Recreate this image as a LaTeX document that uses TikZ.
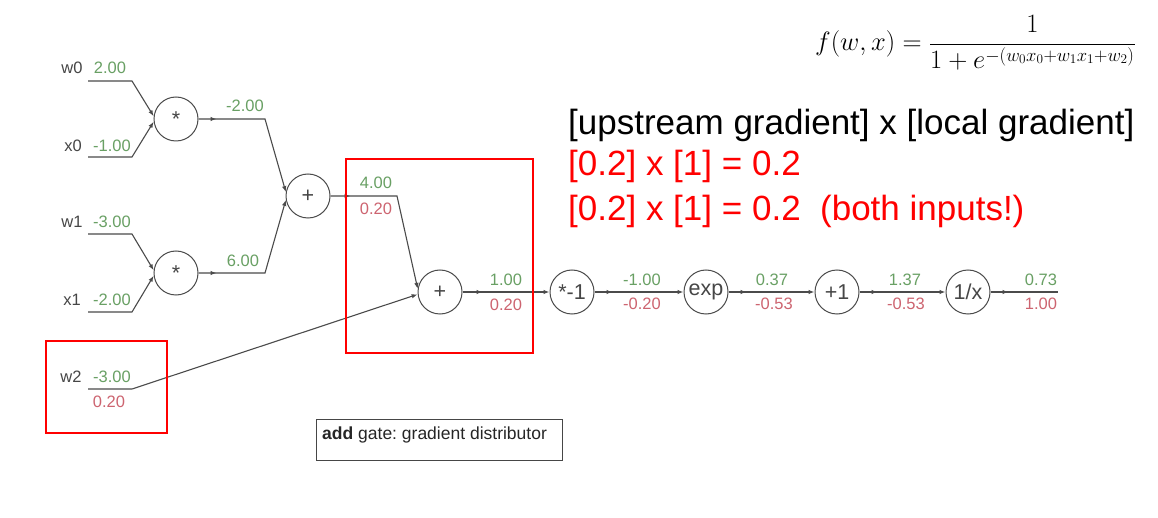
\documentclass[tikz,border=0pt]{standalone}
\usepackage{fix-cm}
\usepackage[no-math]{fontspec}
\setmainfont{Liberation Sans}
\usetikzlibrary{arrows.meta,decorations.markings}
\definecolor{fwdgreen}{RGB}{105,160,100}
\definecolor{bwdred}{RGB}{205,100,112}
\definecolor{wiregray}{RGB}{75,75,75}
\definecolor{labgray}{RGB}{70,70,70}
\frenchspacing
\begin{document}
\begin{tikzpicture}[x=1pt,y=-1pt,
  gate/.style={circle,draw=wiregray,line width=1pt,minimum size=44pt,inner sep=0pt,
    font=\fontsize{21.5}{21.5}\selectfont,text=labgray},
  wire/.style={draw=wiregray,line width=1.1pt},
  tip/.style={-{Latex[length=6pt,width=4.5pt]}},
  midtip/.style={postaction={decorate},decoration={markings,
    mark=at position #1 with {\arrow{Latex[length=6pt,width=4.5pt]}}}},
  midtip/.default=18pt,
  val/.style={font=\fontsize{16.5}{16.5}\selectfont,inner sep=0pt},
  fwd/.style={val,text=fwdgreen},
  bwd/.style={val,text=bwdred},
  iname/.style={val,text=labgray},
  redbox/.style={draw=red,line width=2.2pt},
  bigtext/.style={font=\fontsize{35}{35}\selectfont,anchor=west,inner sep=0pt}
]
\fill[white] (0,0) rectangle (1158,518);
\path[use as bounding box] (0,0) rectangle (1158,518);

% gates
\node[gate] (m1) at (176,119) {*};
\node[gate] (m2) at (176,273) {*};
\node[gate] (a1) at (308,196) {+};
\node[gate] (a2) at (440,292) {+};
\node[gate] (n1) at (572,292) {*-1};
\node[gate] (ex) at (706,292) {exp};
\node[gate] (p1) at (837,292) {+1};
\node[gate] (rc) at (968,292) {1/x};

% wire coordinates
\coordinate (w0s) at (88,81);  \coordinate (w0b) at (132,81);
\coordinate (x0s) at (88,157); \coordinate (x0b) at (132,157);
\coordinate (w1s) at (88,234); \coordinate (w1b) at (132,234);
\coordinate (x1s) at (88,312); \coordinate (x1b) at (132,312);
\coordinate (w2s) at (88,389); \coordinate (w2b) at (132,389);
\coordinate (c1) at (265,119);
\coordinate (c2) at (265,273);
\coordinate (c3) at (397,196);
\coordinate (oend) at (1058,292);

% wires
\draw[wire,tip] (w0s) -- (w0b) -- (m1.173);
\draw[wire,tip] (x0s) -- (x0b) -- (m1.187);
\draw[wire,tip] (w1s) -- (w1b) -- (m2.173);
\draw[wire,tip] (x1s) -- (x1b) -- (m2.187);
\draw[wire,tip,midtip] (m1) -- (c1) -- (a1.170);
\draw[wire,tip,midtip] (m2) -- (c2) -- (a1.190);
\draw[wire,tip,midtip=20pt] (a1) -- (c3) -- (a2.172);
\draw[wire,tip] (w2s) -- (w2b) -- (a2.186);
\draw[wire,tip,midtip=20pt] (a2) -- (n1);
\draw[wire,tip,midtip] (n1) -- (ex);
\draw[wire,tip,midtip] (ex) -- (p1);
\draw[wire,tip,midtip] (p1) -- (rc);
\draw[wire,midtip] (rc) -- (oend);

% input labels
\node[iname] (lw0) at (72,68) {w0};  \node[fwd] (vw0) at (110,68) {2.00};
\node[iname] (lx0) at (73,146) {x0}; \node[fwd] (vx0) at (112,146) {-1.00};
\node[iname] (lw1) at (72,222) {w1}; \node[fwd] (vw1) at (112,222) {-3.00};
\node[iname] (lx1) at (72,300) {x1}; \node[fwd] (vx1) at (112,300) {-2.00};
\node[iname] (lw2) at (71,377) {w2}; \node[fwd] (vw2) at (112,377) {-3.00};
\node[bwd] (gw2) at (109,402) {0.20};

% edge labels
\node[fwd] (f1) at (245,106) {-2.00};
\node[fwd] (f2) at (243,261) {6.00};
\node[fwd] (f3) at (376,183) {4.00};  \node[bwd] (g3) at (376,209) {0.20};
\node[fwd] (f4) at (506,280) {1.00};  \node[bwd] (g4) at (506,305) {0.20};
\node[fwd] (f5) at (642,280) {-1.00}; \node[bwd] (g5) at (642,304) {-0.20};
\node[fwd] (f6) at (772,280) {0.37};  \node[bwd] (g6) at (774,304) {-0.53};
\node[fwd] (f7) at (905,280) {1.37};  \node[bwd] (g7) at (906,304) {-0.53};
\node[fwd] (f8) at (1041,280) {0.73}; \node[bwd] (g8) at (1041,304) {1.00};

% red highlight boxes
\node[redbox,anchor=north west,minimum width=187pt,minimum height=194pt,inner sep=0pt] (box1) at (345,158) {};
\node[redbox,anchor=north west,minimum width=121pt,minimum height=92pt,inner sep=0pt] (box2) at (45,340) {};

% add gate caption box
\node[draw=labgray,line width=1pt,anchor=north west,minimum width=246pt,minimum height=41pt,inner sep=0pt] (gbox) at (316,419) {};
\node[anchor=west,inner sep=0pt,font=\fontsize{17.5}{17.5}\selectfont,text=black!85] (gtext) at (322,435) {\textbf{add} gate: gradient distributor};

% formula
\node[anchor=west,inner sep=0pt,font=\fontsize{26.5}{26.5}\selectfont] (formula) at (815,43)
  {$\displaystyle f(w,x)=\frac{1}{1+e^{-(w_0x_0+w_1x_1+w_2)}}$};

% explanation text
\node[bigtext,text=black] (t1) at (568,125) {[upstream gradient] x [local gradient]};
\node[bigtext,text=red] (t2) at (568,166) {[0.2] x [1] = 0.2};
\node[bigtext,text=red] (t3) at (568,211) {[0.2] x [1] = 0.2\ \ (both inputs!)};
\end{tikzpicture}
\end{document}
